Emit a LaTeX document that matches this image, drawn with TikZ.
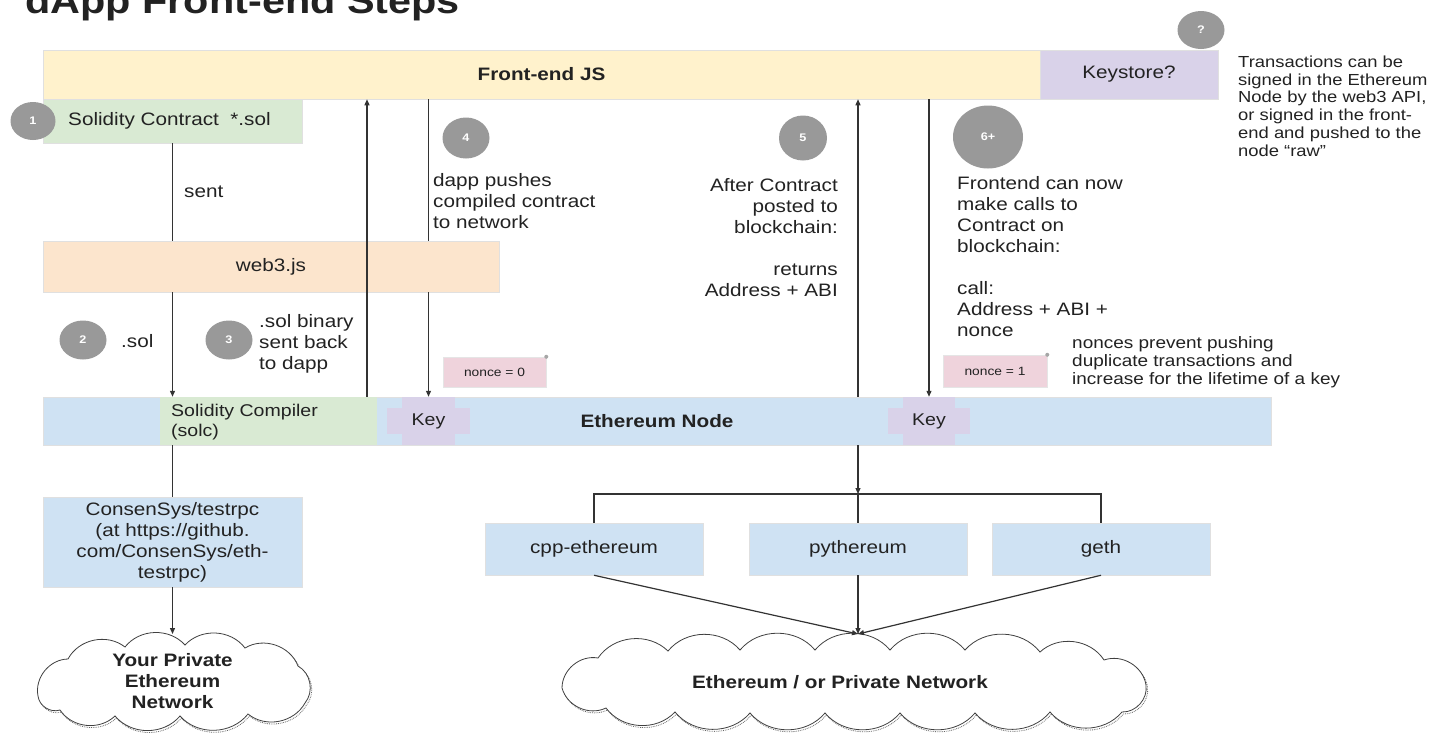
\documentclass[tikz,border=0pt]{standalone}
\usepackage{fontspec}
\setmainfont{Liberation Sans}[FakeStretch=1.15]
\usetikzlibrary{arrows.meta,shapes.geometric}
\definecolor{feY}{HTML}{FFF2CC}
\definecolor{lav}{HTML}{D9D2E9}
\definecolor{grn}{HTML}{D9EAD3}
\definecolor{pch}{HTML}{FCE5CD}
\definecolor{lblu}{HTML}{CFE2F3}
\definecolor{pnk}{HTML}{EFD3DC}
\definecolor{cgray}{HTML}{999999}
\definecolor{lnc}{HTML}{333333}
\definecolor{txt}{HTML}{222222}
\begin{document}
\begin{tikzpicture}[x=1pt,y=-1pt,
  font=\fontsize{18}{21}\selectfont, text=txt,
  box/.style={draw=black!12, line width=0.5pt, inner sep=0pt, anchor=center},
  num/.style={ellipse, fill=cgray, inner sep=0pt, text=white, font=\fontsize{11}{12}\selectfont\bfseries},
  lbl/.style={inner sep=0pt, align=left},
  arr/.style={draw=lnc, line width=1.2pt, -{Triangle[length=6pt,width=5pt]}},
  conn/.style={draw=lnc, line width=1.2pt},
  notebox/.style={box, fill=pnk, draw=black!10, font=\fontsize{12}{14}\selectfont},
  cloudtxt/.style={inner sep=0pt, align=center, font=\fontsize{18}{21}\selectfont\bfseries},
  cloudline/.style={draw=black!75, fill=white, line width=0.8pt},
  cloudshadow/.style={draw=black!60, densely dotted, line width=0.8pt},
  bl/.style={bend left=50},
  cloudApath/.style={insert path={(38,696) to[bl] (68,659) to[bl] (125,647) to[bl] (185,645) to[bl] (245,648) to[bl] (298,666) to[bl] (305,703) to[bl] (248,714) to[bl] (180,716) to[bl] (115,716) to[bl] (60,710) to[bl] (38,696) -- cycle}},
  cloudBpath/.style={insert path={(562,688) to[bl] (598,658) to[bl] (668,651) to[bl] (740,650) to[bl] (815,650) to[bl] (890,650) to[bl] (965,650) to[bl] (1040,652) to[bl] (1104,660) to[bl] (1146,685) to[bl] (1122,712) to[bl] (1050,712) to[bl] (975,713) to[bl] (900,713) to[bl] (825,713) to[bl] (750,713) to[bl] (675,712) to[bl] (606,708) to[bl] (562,688) -- cycle}},
]
\useasboundingbox (0,0) rectangle (1441,732);
\fill[white] (0,0) rectangle (1441,732);

% title (cut by the top edge, as in the reference)
\node[anchor=base west, inner sep=0pt, font=\fontsize{36}{40}\selectfont\bfseries] (title) at (25,13) {dApp Front-end Steps};

% top bar
\node[box, fill=feY, minimum width=997pt, minimum height=49pt, font=\fontsize{18}{21}\selectfont\bfseries] (fe) at (541.5,74.5) {Front-end JS};
\node[box, fill=lav, minimum width=178pt, minimum height=49pt] (ks) at (1129,74.5) {Keystore?};
\node[num, minimum width=47pt, minimum height=38pt] (nq) at (1201,30) {?};
\node[lbl, anchor=west, font=\fontsize{16}{17.8}\selectfont] (ann) at (1238,106) {Transactions can be\\signed in the Ethereum\\Node by the web3 API,\\or signed in the front-\\end and pushed to the\\node “raw”};

% solidity contract
\node[box, fill=grn, minimum width=259pt, minimum height=44pt] (sc) at (172.5,121) {};
\node[lbl, anchor=west] (sct) at (68,121) {Solidity Contract\ \ *.sol};
\node[num, minimum width=45pt, minimum height=38pt] (n1) at (33,121) {1};
\node[lbl, anchor=west] (sent) at (184,192) {sent};

% web3
\node[box, fill=pch, minimum width=456pt, minimum height=51pt] (w3) at (271,266.5) {web3.js};

% steps 2,3
\node[num, minimum width=47pt, minimum height=39pt] (n2) at (83,340) {2};
\node[lbl, anchor=west] (sol) at (121,341) {.sol};
\node[num, minimum width=47pt, minimum height=39pt] (n3) at (229,340) {3};
\node[lbl, anchor=west] (t3) at (259,344) {.sol binary\\sent back\\to dapp};

% step 4
\node[num, minimum width=47pt, minimum height=41pt] (n4) at (466,138) {4};
\node[lbl, anchor=west] (t4) at (433,201) {dapp pushes\\compiled contract\\to network};

% step 5
\node[num, minimum width=48pt, minimum height=45pt] (n5) at (803,138) {5};
\node[lbl, anchor=east, align=right] (t5) at (838,238) {After Contract\\posted to\\blockchain:\\[21pt]returns\\Address + ABI};

% step 6+
\node[num, minimum width=70pt, minimum height=63pt] (n6) at (988,137) {6+};
\node[lbl, anchor=west] (t6) at (957,257) {Frontend can now\\make calls to\\Contract on\\blockchain:\\[21pt]call:\\Address + ABI +\\nonce};
\node[lbl, anchor=west, font=\fontsize{16.5}{18}\selectfont] (tn) at (1072,362) {nonces prevent pushing\\duplicate transactions and\\increase for the lifetime of a key};

% nonce notes
\node[notebox, minimum width=103pt, minimum height=30pt] (nc0) at (494.5,372) {nonce = 0};
\node[notebox, minimum width=104pt, minimum height=32pt] (nc1) at (995,371) {nonce = 1};
\fill[black!35] (nc0.north east) circle (2pt);
\fill[black!35] (nc1.north east) circle (2pt);

% ethereum node bar
\node[box, fill=lblu, minimum width=1228pt, minimum height=48pt, font=\fontsize{18}{21}\selectfont\bfseries] (en) at (657,421) {Ethereum Node};
\node[box, fill=grn, draw=none, minimum width=217pt, minimum height=48pt] (solc) at (268.5,421) {};
\node[lbl, anchor=west, font=\fontsize{17}{20}\selectfont] (solct) at (171,422) {Solidity Compiler\\(solc)};
\fill[lav] (387,408) rectangle (470,434);
\node[box, draw=none, fill=lav, minimum width=53pt, minimum height=48pt, font=\fontsize{17}{20}\selectfont] (k1) at (428.5,421) {Key};
\fill[lav] (888,408) rectangle (970,434);
\node[box, draw=none, fill=lav, minimum width=52pt, minimum height=48pt, font=\fontsize{17}{20}\selectfont] (k2) at (929,421) {Key};

% lower boxes
\node[box, fill=lblu, minimum width=259pt, minimum height=90pt, align=center] (tr) at (172.5,542) {ConsenSys/testrpc\\(at https://github.\\com/ConsenSys/eth-\\testrpc)};
\node[box, fill=lblu, minimum width=218pt, minimum height=52pt] (cpp) at (594,549) {cpp-ethereum};
\node[box, fill=lblu, minimum width=218pt, minimum height=52pt] (py) at (858,549) {pythereum};
\node[box, fill=lblu, minimum width=218pt, minimum height=52pt] (geth) at (1101,549) {geth};

% clouds
\begin{scope}[shift={(1.5,2)}]
  \path[cloudshadow, cloudApath];
  \path[cloudshadow, cloudBpath];
\end{scope}
\path[cloudline, cloudApath];
\path[cloudline, cloudBpath];
\node[cloudtxt] (cl1) at (172.5,681) {Your Private\\Ethereum\\Network};
\node[cloudtxt] (cl2) at (840,682) {Ethereum / or Private Network};

% named points
\coordinate (xup) at (367,0);
\coordinate (br) at (858,494);
\coordinate (cv) at (858,634);
\coordinate (c1top) at (172.5,634);

% connectors
\draw[conn] (sc.south) -- (sc.south |- w3.north);
\draw[arr] (sc.south |- w3.south) -- (sc.south |- en.north);
\draw[conn] (tr.north |- en.south) -- (tr.north);
\draw[arr] (tr.south) -- (c1top);
\draw[arr] (en.north -| xup) -- (fe.south -| xup);
\draw[conn] (fe.south -| k1) -- (w3.north -| k1);
\draw[arr] (w3.south -| k1) -- (k1.north);
\draw[arr] (en.north -| py) -- (fe.south -| py);
\draw[arr] (en.south -| py) -- (br);
\draw[conn] (cpp.north) |- (br) -| (geth.north);
\draw[conn] (br) -- (py.north);
\draw[arr] (fe.south -| k2) -- (k2.north);
\draw[arr] (cpp.south) -- (cv);
\draw[arr] (py.south) -- (cv);
\draw[arr] (geth.south) -- (cv);
\end{tikzpicture}
\end{document}
